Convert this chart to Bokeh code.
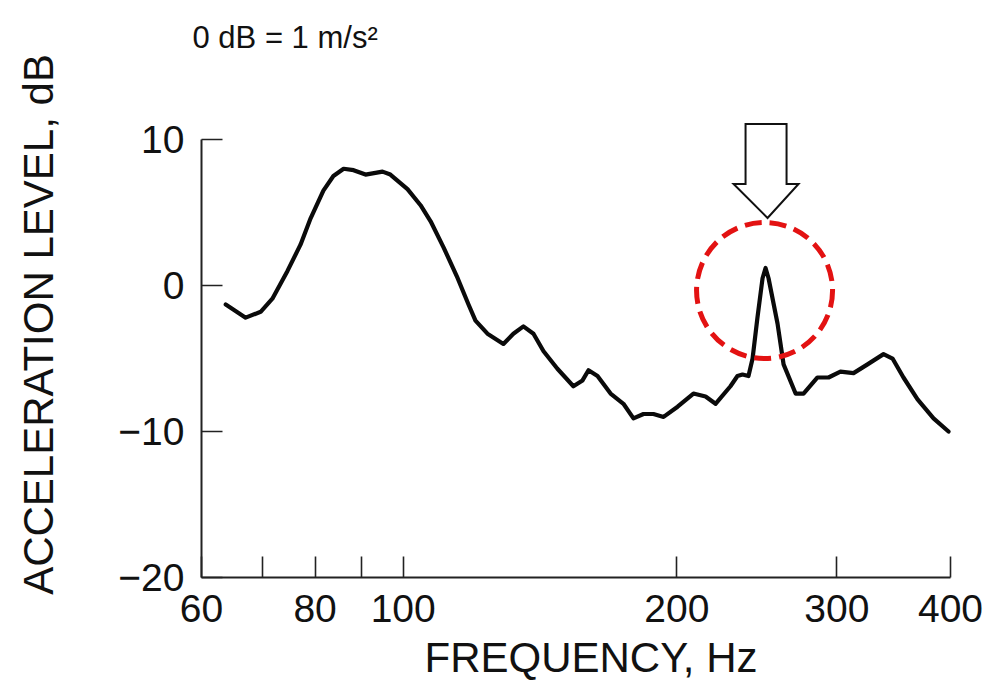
import numpy as np
from bokeh.plotting import figure
from bokeh.models import FixedTicker, Range1d
from bokeh.embed import file_html
from bokeh.resources import INLINE

# Measured acceleration spectrum
freq_hz = [63.8, 67.1, 69.7, 71.8, 74.6, 77.1, 79.1, 81.7, 83.8, 86.0, 88.2, 90.9,
           94.9, 96.8, 101.1, 104.5, 107.2, 110.8, 114.8, 118.0, 120.1, 123.8, 128.9,
           132.2, 135.6, 139.1, 142.7, 147.8, 153.9, 157.5, 159.9, 163.6, 169.1, 174.7,
           179.2, 183.8, 188.5, 193.4, 200.4, 208.6, 215.1, 220.6, 229.1, 233.2, 236.2,
           239.8, 242.3, 245.3, 248.5, 250.4, 252.3, 258.1, 262.1, 270.2, 275.7, 285.6,
           293.7, 302.7, 312.9, 324.2, 337.6, 345.4, 355.1, 368.0, 383.2, 398.0]
level_db = [-1.3, -2.2, -1.8, -0.9, 1.0, 2.8, 4.6, 6.5, 7.5, 8.0, 7.9, 7.6,
            7.8, 7.6, 6.6, 5.5, 4.4, 2.6, 0.5, -1.3, -2.4, -3.3, -4.0,
            -3.3, -2.8, -3.3, -4.5, -5.7, -6.9, -6.5, -5.8, -6.2, -7.4, -8.1,
            -9.1, -8.8, -8.8, -9.0, -8.3, -7.4, -7.6, -8.1, -6.9, -6.2, -6.1,
            -6.2, -5.0, -2.2, 0.5, 1.2, 0.5, -2.6, -5.4, -7.4, -7.4, -6.3,
            -6.3, -5.9, -6.0, -5.4, -4.7, -5.0, -6.3, -7.8, -9.1, -10.0]

x_ticks = [60, 70, 80, 90, 100, 200, 300, 400]
x_tick_labels = ["60", "", "80", "", "100", "200", "300", "400"]
y_ticks = [-20, -10, 0, 10]
y_tick_labels = ["\u221220", "\u221210", "0", "10"]
reference_note = "0 dB = 1 m/s\u00b2"

FONT = "Liberation Sans"
W, H = 998, 690
LEFT, RIGHT, TOP, BOTTOM = 201, 18, 71, 113
X_RANGE = (60, 431.6)
Y_RANGE = (-20, 14.66)

p = figure(width=W, height=H, x_axis_type="log",
           x_range=Range1d(*X_RANGE), y_range=Range1d(*Y_RANGE),
           output_backend="svg", toolbar_location=None,
           min_border_left=LEFT, min_border_right=RIGHT,
           min_border_top=TOP, min_border_bottom=BOTTOM,
           title=reference_note)

p.title.text_font = FONT
p.title.text_font_size = "31px"
p.title.text_font_style = "normal"
p.title.text_color = "#111111"
p.title.align = "left"
p.title.vertical_align = "top"
p.title.offset = -9
p.title.standoff = 30

p.outline_line_color = None
p.xgrid.visible = False
p.ygrid.visible = False
p.background_fill_color = "white"
p.border_fill_color = "white"

p.xaxis.ticker = FixedTicker(ticks=x_ticks, minor_ticks=[])
p.xaxis.major_label_overrides = {t: s for t, s in zip(x_ticks, x_tick_labels)}
p.yaxis.ticker = FixedTicker(ticks=y_ticks, minor_ticks=[])
p.yaxis.major_label_overrides = {t: s for t, s in zip(y_ticks, y_tick_labels)}
p.xaxis.bounds = (60, 400)
p.yaxis.bounds = (-20, 10)
p.xaxis.axis_label = "FREQUENCY, Hz"
p.yaxis.axis_label = "ACCELERATION LEVEL, dB"

for ax in (p.xaxis[0], p.yaxis[0]):
    ax.axis_line_width = 2
    ax.axis_line_color = "#222222"
    ax.major_tick_line_width = 1.6
    ax.major_tick_line_color = "#222222"
    ax.major_tick_in = 21
    ax.major_tick_out = 0
    ax.minor_tick_in = 0
    ax.minor_tick_out = 0
    ax.major_label_text_font = FONT
    ax.major_label_text_font_size = "39px"
    ax.major_label_text_color = "#111111"
    ax.axis_label_text_font = FONT
    ax.axis_label_text_font_size = "42px"
    ax.axis_label_text_font_style = "normal"
    ax.axis_label_text_color = "#111111"

p.xaxis.major_label_standoff = 17
p.xaxis.axis_label_standoff = 9
p.yaxis.major_label_standoff = 17
p.yaxis.axis_label_standoff = 53

# spectrum curve
p.line(freq_hz, level_db, line_color="#0a0a0a", line_width=4.2,
       line_join="round", line_cap="round")

# pixel-to-data conversion for the callouts
frame_h = H - TOP - BOTTOM
px_per_ln = (W - LEFT - RIGHT) / np.log(X_RANGE[1] / X_RANGE[0])
px_per_db = frame_h / (Y_RANGE[1] - Y_RANGE[0])

f_arr = np.array(freq_hz)
l_arr = np.array(level_db)
hi = f_arr > 200
k = int(np.argmax(np.where(hi, l_arr, -99)))
f_pk, l_pk = f_arr[k], l_arr[k]


def fx(dx_px):
    return f_pk * np.exp(dx_px / px_per_ln)


def dy(dy_px):
    return l_pk + dy_px / px_per_db


# hollow arrow pointing down at the resonance
arrow_x = [fx(-20), fx(21), fx(21), fx(33), fx(2), fx(-32), fx(-20)]
arrow_y = [dy(144), dy(144), dy(84), dy(84), dy(50), dy(84), dy(84)]
p.patch(arrow_x, arrow_y, fill_color="white", line_color="#111111",
        line_width=2, line_join="miter")

# dashed red ring around the peak
p.scatter([fx(-1)], [dy(-22.5)], marker="circle", size=136,
          fill_color=None, line_color="#e31212", line_width=5,
          line_dash="17 8")

open("out.html", "w").write(file_html(p, INLINE))
